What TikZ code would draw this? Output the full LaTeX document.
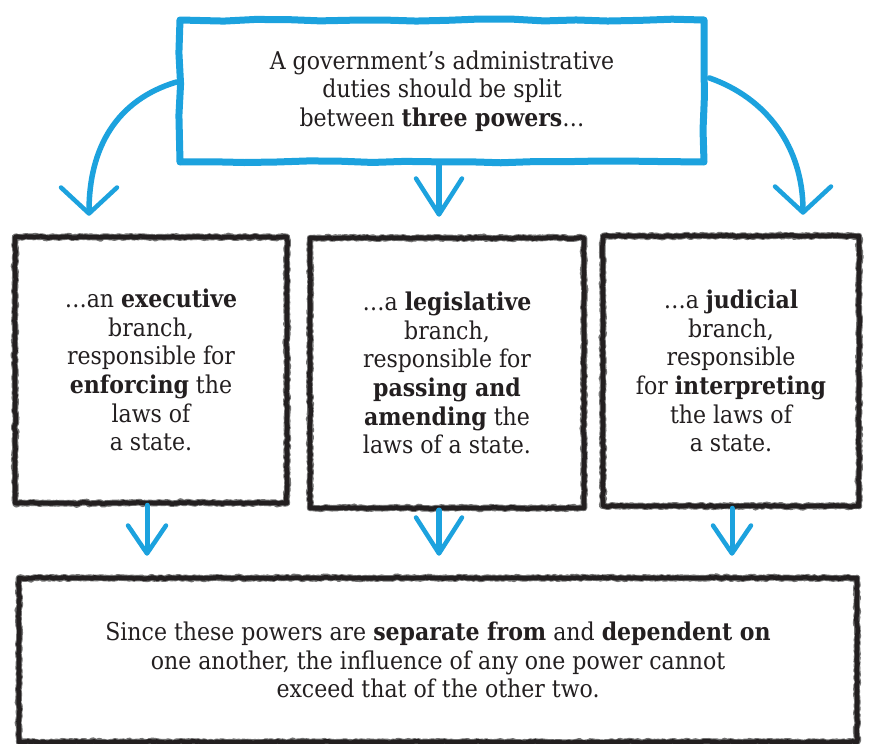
\documentclass[tikz,border=0pt]{standalone}
\usepackage{fontspec}
\setmainfont{DejaVu Serif Condensed}
\usetikzlibrary{arrows.meta,decorations.pathmorphing,calc}
\definecolor{skyb}{RGB}{28,162,222}
\definecolor{ink}{RGB}{35,31,32}
\begin{document}
\begin{tikzpicture}[x=1pt,y=-1pt,
  txt/.style={text=ink, align=center, inner sep=0pt, font=\fontsize{24.5}{28.6}\selectfont},
  bluebox/.style={txt, draw=skyb, line width=7pt, line join=round,
    decorate, decoration={random steps, segment length=32pt, amplitude=1.1pt}},
  crayon/.style={txt, draw=ink, line width=4.5pt, line join=round,
    preaction={draw=black!55, line width=6.5pt, decorate,
      decoration={random steps, segment length=2pt, amplitude=1.1pt}},
    decorate, decoration={random steps, segment length=3pt, amplitude=0.7pt}},
  bigarrow/.style={draw=skyb, line width=5.5pt, line cap=round,
    -{Straight Barb[length=26pt, width=56pt, line width=4.5pt, round]}},
  midarrow/.style={draw=skyb, line width=5.5pt, line cap=round,
    -{Straight Barb[length=36pt, width=46pt, line width=4.5pt, round]}},
  downarrow/.style={draw=skyb, line width=5pt, line cap=round,
    -{Straight Barb[length=28pt, width=38pt, line width=4.5pt, round]}}
]
\pgfmathsetseed{7}
\useasboundingbox (0,0) rectangle (871,744);
\fill[white] (0,0) rectangle (871,744);

\node[bluebox, minimum width=524pt, minimum height=142pt] (top) at (442,91)
  {A government’s administrative\\ duties should be split\\ between \textbf{three powers}…};

\node[crayon, minimum width=272pt, minimum height=266pt] (b1) at (151,370)
  {…an \textbf{executive}\\ branch,\\ responsible for\\ \textbf{enforcing} the\\ laws of\\ a state.};
\node[crayon, minimum width=274pt, minimum height=270pt] (b2) at (447,373)
  {…a \textbf{legislative}\\ branch,\\ responsible for\\ \textbf{passing and}\\ \textbf{amending} the\\ laws of a state.};
\node[crayon, minimum width=256pt, minimum height=270pt] (b3) at (731,371)
  {…a \textbf{judicial}\\ branch,\\ responsible\\ for \textbf{interpreting}\\ the laws of\\ a state.};

\node[crayon, minimum width=838pt, minimum height=164pt] (bot) at (438,660)
  {Since these powers are \textbf{separate from} and \textbf{dependent on}\\ one another, the influence of any one power cannot\\ exceed that of the other two.};

% tips of the upper arrows
\coordinate (t1) at ($(b1.north)+(-62,-19)$);
\coordinate (t2) at ($(b2.north)+(-8,-19)$);
\coordinate (t3) at ($(b3.north)+(72,-19)$);
\coordinate (s1) at ($(top.west)+(0,-9)$);
\coordinate (s3) at ($(top.east)+(2,-13)$);

\draw[bigarrow] (s1) .. controls ($(s1)+(-60,18)$) and ($(t1)+(0,-68)$) .. (t1);
\draw[midarrow] (top.south -| t2) -- (t2);
\draw[bigarrow] (s3) .. controls ($(s3)+(57,20)$) and ($(t3)+(0,-68)$) .. (t3);

% lower arrows
\coordinate (u1) at ($(bot.north)+(-291,-20)$);
\coordinate (u2) at ($(bot.north)+(1,-20)$);
\coordinate (u3) at ($(bot.north)+(294,-20)$);
\draw[downarrow] (b1.south -| u1) -- (u1);
\draw[midarrow] (b2.south -| u2) -- (u2);
\draw[downarrow] (b3.south -| u3) -- (u3);
\end{tikzpicture}
\end{document}
